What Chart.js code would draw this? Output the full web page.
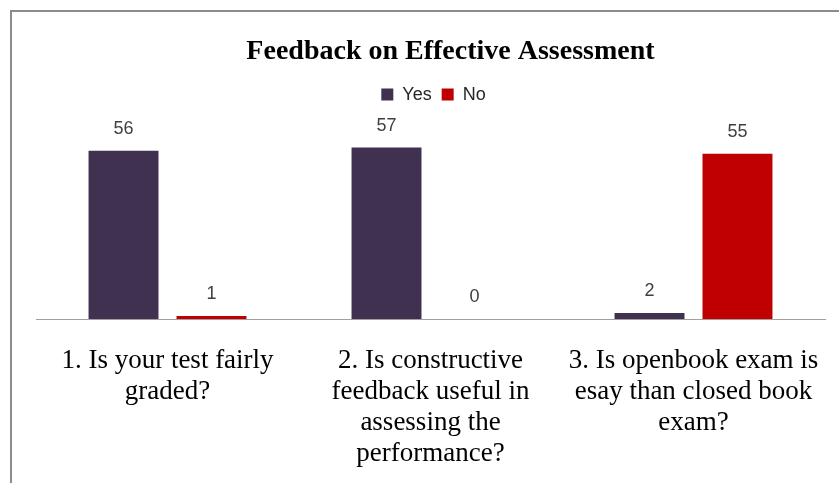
<!DOCTYPE html>
<html>
<head>
<meta charset="utf-8">
<script src="https://cdn.jsdelivr.net/npm/chart.js@4.4.1/dist/chart.umd.min.js"></script>
<style>
  html, body { margin: 0; padding: 0; background: #fff; }
  #wrap { width: 839px; height: 483px; }
</style>
</head>
<body>
<div id="wrap"><canvas id="graph" width="839" height="483"></canvas></div>
<script>
// data
var questions = [
  ["1. Is your test fairly", "graded?"],
  ["2. Is constructive", "feedback useful in", "assessing the", "performance?"],
  ["3. Is openbook exam is", "esay than closed book", "exam?"]
];
var yesCounts = [56, 57, 2];
var noCounts = [1, 0, 55];

var frame = {
  id: 'frame',
  beforeDraw: function (chart) {
    var ctx = chart.ctx;
    ctx.save();
    ctx.fillStyle = '#ffffff';
    ctx.fillRect(0, 0, chart.width, chart.height);
    ctx.strokeStyle = '#8c8c8c';
    ctx.lineWidth = 2;
    ctx.strokeRect(11, 11, 1000, 1000);
    ctx.restore();
  }
};

// nudge title and legend to where the original has them
var shiftBlocks = {
  id: 'shiftBlocks',
  beforeInit: function (chart) {
    var fit = chart.legend.fit;
    chart.legend.fit = function () {
      fit.bind(chart.legend)();
      this.height += 25;
    };
  },
  afterLayout: function (chart) {
    chart.titleBlock.left += 20;
    chart.titleBlock.right += 20;
    chart.legend.left += 3;
    chart.legend.right += 3;
  }
};

var valueLabels = {
  id: 'valueLabels',
  afterDatasetsDraw: function (chart) {
    var ctx = chart.ctx;
    ctx.save();
    ctx.font = '18px "Liberation Sans", Arial, sans-serif';
    ctx.fillStyle = '#404040';
    ctx.textAlign = 'center';
    ctx.textBaseline = 'middle';
    chart.data.datasets.forEach(function (ds, i) {
      chart.getDatasetMeta(i).data.forEach(function (bar, j) {
        ctx.fillText(ds.data[j], bar.x, bar.y - 22);
      });
    });
    ctx.restore();
  }
};

var ctx = document.getElementById('graph').getContext('2d');

new Chart(ctx, {
  type: 'bar',
  data: {
    labels: questions,
    datasets: [{
      label: 'Yes',
      backgroundColor: '#403151',
      data: yesCounts
    }, {
      label: 'No',
      backgroundColor: '#C00000',
      data: noCounts
    }]
  },
  options: {
    responsive: false,
    animation: false,
    categoryPercentage: 0.669,
    barPercentage: 0.795,
    layout: {
      padding: { left: 36, right: 14, top: 12, bottom: 14 }
    },
    scales: {
      x: {
        grid: { display: false, drawTicks: false },
        border: { display: true, color: '#a0a0a0', width: 1 },
        afterFit: function (scale) {
          scale.height = 150;
          scale.paddingLeft = 0;
          scale.paddingRight = 0;
        },
        ticks: {
          autoSkip: false,
          maxRotation: 0,
          minRotation: 0,
          padding: 26,
          color: '#000000',
          font: { family: '"Liberation Serif", "Times New Roman", serif', size: 27, lineHeight: 1.15 }
        }
      },
      y: {
        display: false,
        min: 0,
        max: 60
      }
    },
    plugins: {
      tooltip: { enabled: false },
      title: {
        display: true,
        text: 'Feedback on Effective Assessment',
        color: '#000000',
        font: { family: '"Liberation Serif", "Times New Roman", serif', size: 28, weight: 'bold', lineHeight: 1.2 },
        padding: { top: 23, bottom: 7 }
      },
      legend: {
        position: 'top',
        labels: {
          boxWidth: 12,
          boxHeight: 12,
          padding: 10,
          color: '#262626',
          font: { family: '"Liberation Sans", Arial, sans-serif', size: 18 }
        }
      }
    }
  },
  plugins: [frame, shiftBlocks, valueLabels]
});
</script>
</body>
</html>
